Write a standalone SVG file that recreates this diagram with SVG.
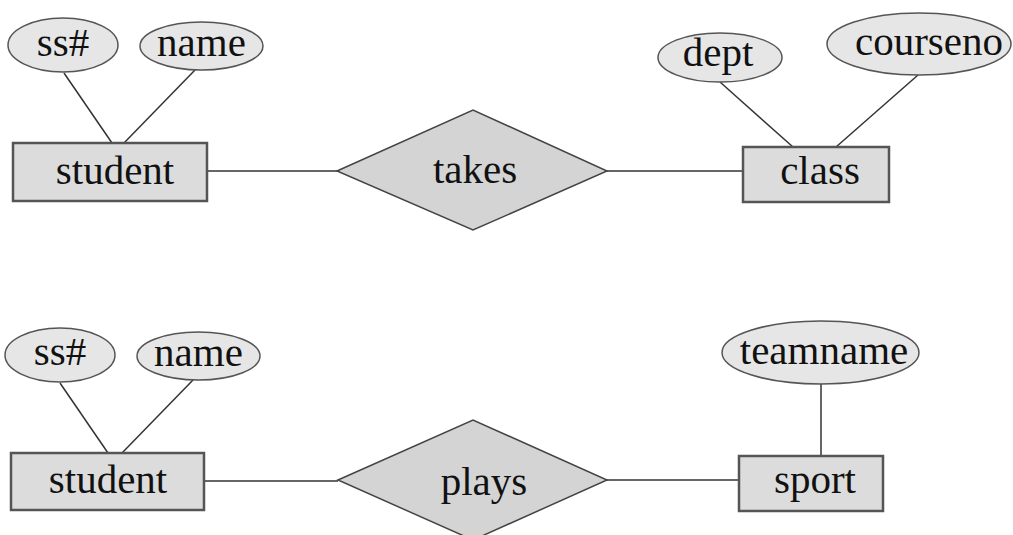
<svg xmlns="http://www.w3.org/2000/svg" width="1013" height="535" viewBox="0 0 1013 535">
<style>
.attr{fill:#e6e6e6;stroke:#555;stroke-width:1.5}
.ent{fill:#dcdcdc;stroke:#555;stroke-width:2.5}
.rel{fill:#d4d4d4;stroke:#444;stroke-width:1.5}
.lnk{stroke:#333;stroke-width:1.5;fill:none}
text{font-family:"Liberation Serif","DejaVu Serif",serif;font-size:41px;fill:#111;text-anchor:middle}
</style>
<rect width="1013" height="535" fill="#fff"/>
<g id="connectors">
<line class="lnk" x1="64" y1="73" x2="112" y2="143"/>
<line class="lnk" x1="195" y1="70" x2="124" y2="143"/>
<line class="lnk" x1="207" y1="171" x2="337" y2="171"/>
<line class="lnk" x1="607" y1="171" x2="743" y2="171"/>
<line class="lnk" x1="720" y1="82" x2="793" y2="147"/>
<line class="lnk" x1="918" y1="75" x2="836" y2="147"/>
<line class="lnk" x1="60" y1="383" x2="108" y2="453"/>
<line class="lnk" x1="193" y1="380" x2="122" y2="453"/>
<line class="lnk" x1="204" y1="481" x2="338" y2="481"/>
<line class="lnk" x1="607" y1="480" x2="739" y2="480"/>
<line class="lnk" x1="821" y1="384" x2="821" y2="456"/>
</g>
<g id="ss1"><ellipse class="attr" cx="63" cy="45" rx="55" ry="27"/><text x="63" y="56">ss#</text></g>
<g id="name1"><ellipse class="attr" cx="201.5" cy="46" rx="61.5" ry="24"/><text x="201.5" y="56">name</text></g>
<g id="student1"><rect class="ent" x="13" y="143" width="194" height="58"/><text x="115" y="184">student</text></g>
<g id="takes"><polygon class="rel" points="337,171 473,110 607,171 473,230"/><text x="475" y="183">takes</text></g>
<g id="class"><rect class="ent" x="743" y="147" width="146" height="55"/><text x="820" y="184">class</text></g>
<g id="dept"><ellipse class="attr" cx="720" cy="57.5" rx="62" ry="24.5"/><text x="718" y="66">dept</text></g>
<g id="courseno"><ellipse class="attr" cx="919" cy="44" rx="92" ry="31"/><text x="929" y="55">courseno</text></g>
<g id="ss2"><ellipse class="attr" cx="60" cy="355" rx="55" ry="27"/><text x="60" y="365">ss#</text></g>
<g id="name2"><ellipse class="attr" cx="198.5" cy="356" rx="61.5" ry="24"/><text x="198.5" y="366">name</text></g>
<g id="student2"><rect class="ent" x="11" y="453" width="193" height="57"/><text x="108" y="493">student</text></g>
<g id="plays"><polygon class="rel" points="338,480 473,420 607,480 473,540"/><text x="484" y="495">plays</text></g>
<g id="sport"><rect class="ent" x="739" y="456" width="144" height="55"/><text x="815" y="493">sport</text></g>
<g id="teamname"><ellipse class="attr" cx="820.5" cy="352.5" rx="98.5" ry="31.5"/><text x="824" y="364">teamname</text></g>
</svg>
